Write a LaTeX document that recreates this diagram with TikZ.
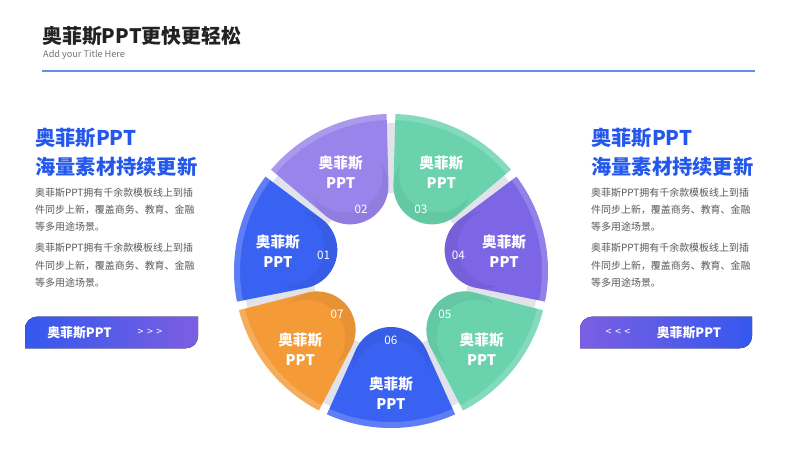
\documentclass[tikz,border=0pt]{standalone}
\usepackage{fontspec}
\setmainfont{Noto Sans CJK SC}
\usetikzlibrary{positioning}

\definecolor{segblue}{RGB}{58,98,242}
\definecolor{segpurple}{RGB}{152,132,235}
\definecolor{segviolet}{RGB}{124,102,230}
\definecolor{seggreen}{RGB}{106,211,174}
\definecolor{segorange}{RGB}{244,155,56}
\definecolor{ringgray}{RGB}{226,227,234}
\definecolor{headblue}{RGB}{36,88,236}
\definecolor{ruleblue}{RGB}{104,140,236}
\definecolor{titleblack}{RGB}{34,34,34}
\definecolor{bodygray}{RGB}{88,88,88}
\definecolor{btnblue}{RGB}{52,88,238}
\definecolor{btnpurple}{RGB}{124,94,226}

\begin{document}
\begin{tikzpicture}[x=0.03cm, y=0.03cm,
    segtext/.style={text=white, font=\fontsize{12.5}{17}\selectfont\bfseries, align=center},
    segnum/.style={text=white, font=\fontsize{10}{12}\selectfont},
    headline/.style={text=headblue, font=\fontsize{17.3}{20}\selectfont\bfseries, anchor=west, inner sep=0pt},
    bodyline/.style={text=bodygray, font=\fontsize{8.5}{10}\selectfont, anchor=west, inner sep=0pt},
    btntext/.style={text=white, font=\fontsize{11}{13}\selectfont\bfseries},
    btnarrow/.style={text=white, font=\fontsize{9}{10}\selectfont}
]
    \useasboundingbox (0,0) rectangle (800,450);

    % --- TITLE ---
    \node[anchor=west, inner sep=0pt, text=titleblack, font=\fontsize{17}{19}\selectfont\bfseries] (title) at (42,414) {奥菲斯PPT更快更轻松};
    \node[anchor=west, inner sep=0pt, text=black!55, font=\fontsize{7.8}{9}\selectfont] (subtitle) at (43,395.5) {Add your Title Here};
    \coordinate (ruleL) at (42,379);
    \coordinate (ruleR) at (755,379);
    \draw[ruleblue, line width=1.5pt] (ruleL) -- (ruleR);

    % --- TEXT BLOCKS (left / right) ---
    \foreach \bx/\side in {35/L, 591/R} {
        \node[headline] (head1\side) at (\bx,312) {奥菲斯PPT};
        \node[headline] (head2\side) at (\bx,283) {海量素材持续更新};
        \foreach \by/\txt [count=\i] in {257.5/奥菲斯PPT拥有千余款模板线上到插, 240/件同步上新，覆盖商务、教育、金融, 223/等多用途场景。,
                                         202/奥菲斯PPT拥有千余款模板线上到插, 184.5/件同步上新，覆盖商务、教育、金融, 167.5/等多用途场景。}
            \node[bodyline] (body\i\side) at (\bx,\by) {\txt};
    }

    % --- BUTTONS ---
    \fill[left color=btnblue, right color=btnpurple] (25,101.7) -- (25,121.3) arc[start angle=180, end angle=90, radius=12]
        -- (198,133.3) -- (198,113.7) arc[start angle=0, end angle=-90, radius=12] -- cycle;
    \node[btntext] (btnL) at (79.5,117.5) {奥菲斯PPT};
    \node[btnarrow] (arrL) at (150,117.5) {>\,\,>\,\,>};

    \fill[left color=btnpurple, right color=btnblue] (580,101.7) -- (580,121.3) arc[start angle=180, end angle=90, radius=12]
        -- (752,133.3) -- (752,113.7) arc[start angle=0, end angle=-90, radius=12] -- cycle;
    \node[btnarrow] (arrR) at (618,117.5) {<\,\,<\,\,<};
    \node[btntext] (btnR) at (689,117.5) {奥菲斯PPT};

    % --- WHEEL ---
    \begin{scope}[shift={(391,179)}]
        \fill[ringgray, even odd rule] (0,0) circle (148) (0,0) circle (78);
        \foreach \k/\col in {1/segblue, 2/segpurple, 3/seggreen, 4/segviolet, 5/seggreen, 6/segblue, 7/segorange} {
            \pgfmathsetmacro\ang{167.14-51.43*(\k-1)}
            \pgfmathsetmacro\lo{\ang-24.1}
            \pgfmathsetmacro\hi{\ang+24.1}
            \pgfmathsetmacro\capA{\hi+90}
            \pgfmathsetmacro\capB{\lo+270}
            \def\segpath{(\lo:157) arc[start angle=\lo, end angle=\hi, radius=157] -- (\hi:86.4)
                arc[start angle=\capA, end angle=\capB, radius=38.6] -- cycle}
            \fill[\col] \segpath;
            \begin{scope}
                \clip \segpath;
                % cap band and outer rim
                \fill[\col!75!black, opacity=0.2] (\ang:94.6) circle (38.6);
                \fill[\col] (\ang:108) circle (38.6);
                \fill[white, opacity=0.18, even odd rule] (0,0) circle (157) (0,0) circle (151);
            \end{scope}
            \node[segtext] (seg\k) at ([yshift=-5]\ang:116) {奥菲斯\\PPT};
            \node[segnum] (num\k) at (\ang:69) {0\k};
        }
    \end{scope}

\end{tikzpicture}
\end{document}
